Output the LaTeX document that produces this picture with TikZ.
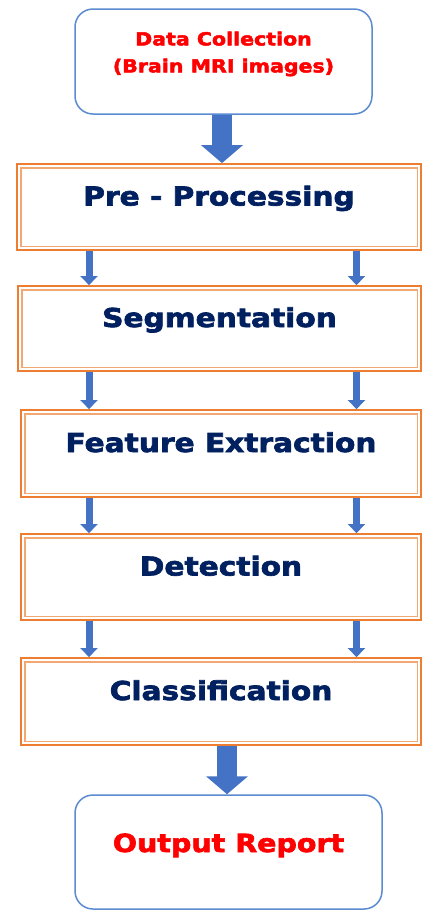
\documentclass[tikz,border=0pt]{standalone}
\usepackage{fontspec}
\usetikzlibrary{arrows.meta,calc}
\newfontfamily\heavy{DejaVu Sans}[FakeStretch=1.14, BoldFeatures={FakeBold=2.6}]

\definecolor{navytext}{HTML}{002060}
\definecolor{flowblue}{HTML}{4472C4}
\definecolor{frameblue}{HTML}{5B8BD0}
\definecolor{outerorange}{HTML}{ED7D31}
\definecolor{innerorange}{HTML}{F2A873}
\definecolor{alertred}{HTML}{FF0000}

\tikzset{
  stagebox/.style={draw=outerorange, line width=1.8pt, fill=white,
    inner sep=0pt, text height=20pt, text depth=23pt,
    font=\heavy\bfseries\fontsize{26}{30}\selectfont, text=navytext},
  endbox/.style={draw=frameblue, line width=1.5pt, rounded corners=18pt,
    fill=white, inner sep=0pt},
  redtext/.style={text=alertred, inner sep=0pt, align=center},
  thinflow/.style={draw=flowblue, line width=7pt,
    -{Triangle[width=17pt,length=9pt]}, color=flowblue},
  fatflow/.style={draw=flowblue, line width=20pt,
    -{Triangle[width=41pt,length=18pt]}, color=flowblue},
}

\begin{document}
\begin{tikzpicture}[x=1pt,y=1pt]
  \useasboundingbox (0,0) rectangle (422,-911);

  % start and end terminals
  \node[endbox, minimum width=297pt, minimum height=105pt] (collect) at (223.5,-61.5) {};
  \node[redtext, font=\heavy\bfseries\fontsize{18}{27}\selectfont] (collecttxt)
    at (223.5,-54) {Data Collection\\(Brain MRI images)};

  \node[endbox, minimum width=307pt, minimum height=114pt,
        text height=12pt, text depth=12pt, text=alertred,
        font=\heavy\bfseries\fontsize{25}{30}\selectfont] (report) at (228.5,-852) {Output Report};

  % processing stages
  \node[stagebox, minimum width=404pt, minimum height=86pt] (pre) at (219,-207) {Pre - Processing};
  \node[stagebox, minimum width=403pt, minimum height=85pt] (seg) at (219.5,-328.5) {Segmentation};
  \node[stagebox, minimum width=400pt, minimum height=87pt] (feat) at (221,-453.5) {Feature Extraction};
  \node[stagebox, minimum width=400pt, minimum height=86pt] (det) at (221,-577) {Detection};
  \node[stagebox, minimum width=400pt, minimum height=87pt] (cls) at (221,-701.5) {Classification};

  % inner line of each double frame
  \foreach \n in {pre,seg,feat,det,cls}{
    \draw[innerorange, line width=1.8pt]
      ($(\n.north west)+(4.5,-4.5)$) rectangle ($(\n.south east)+(-4.5,4.5)$);
  }

  % columns of the connectors
  \coordinate (lcol) at (89,0);
  \coordinate (rcol) at (356.5,0);
  \coordinate (topcol) at (222,0);
  \coordinate (botcol) at (227,0);

  % wide arrows
  \draw[fatflow] (collect.south -| topcol) -- (pre.north -| topcol);
  \draw[fatflow] (cls.south -| botcol) -- (report.north -| botcol);

  % paired arrows between stages
  \foreach \a/\b in {pre/seg,seg/feat,feat/det,det/cls}{
    \draw[thinflow] (\a.south -| lcol) -- (\b.north -| lcol);
    \draw[thinflow] (\a.south -| rcol) -- (\b.north -| rcol);
  }
\end{tikzpicture}
\end{document}
